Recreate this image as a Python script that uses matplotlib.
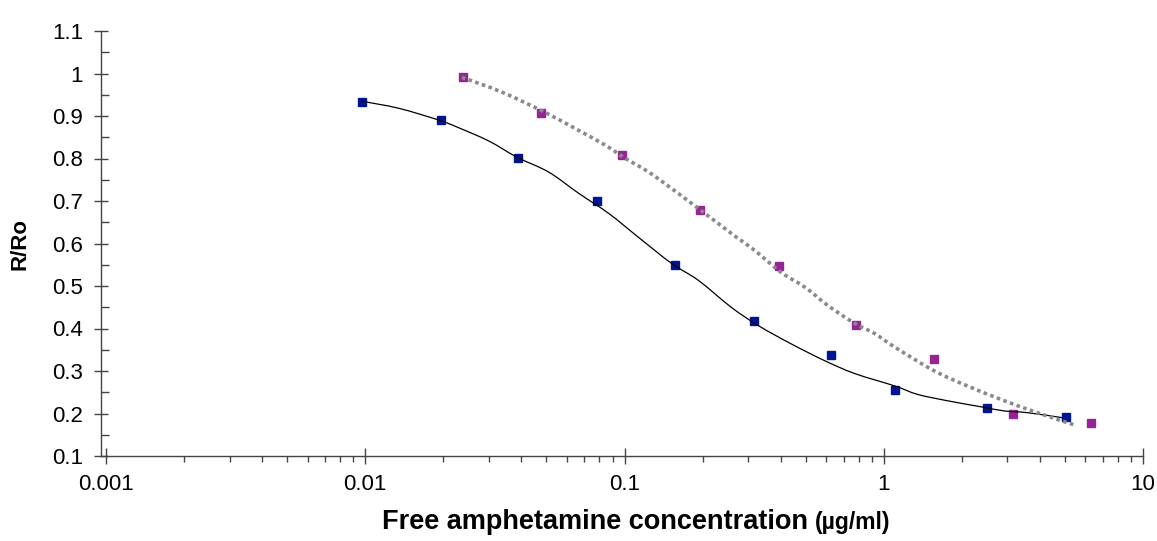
import matplotlib
matplotlib.use("Agg")
import matplotlib.pyplot as plt
from matplotlib.path import Path
from matplotlib.patches import PathPatch
from matplotlib.ticker import FixedLocator, LogLocator, AutoMinorLocator, NullFormatter
import numpy as np

plt.rcParams['font.family'] = ['Liberation Sans', 'DejaVu Sans']

# measured points, series 1 (blue) and series 2 (magenta)
conc_blue = [0.0097, 0.0196, 0.039, 0.0785, 0.157, 0.315, 0.624, 1.11, 2.51, 5.05]
rr_blue = [0.934, 0.891, 0.802, 0.700, 0.550, 0.417, 0.337, 0.255, 0.214, 0.192]

conc_mag = [0.0239, 0.0478, 0.098, 0.196, 0.394, 0.785, 1.56, 3.15, 6.3]
rr_mag = [0.991, 0.908, 0.809, 0.679, 0.548, 0.408, 0.328, 0.198, 0.177]

# fitted curves
fit_blue_x = [0.00966, 0.0135, 0.0193, 0.0230, 0.0300, 0.0385, 0.0510, 0.0666, 0.0868,
              0.113, 0.152, 0.193, 0.258, 0.328, 0.439, 0.593, 0.773, 1.10, 1.35,
              1.76, 2.36, 2.92, 3.58, 4.9]
fit_blue_y = [0.935, 0.918, 0.890, 0.872, 0.841, 0.803, 0.768, 0.718, 0.671,
              0.615, 0.553, 0.513, 0.450, 0.407, 0.364, 0.324, 0.294, 0.265, 0.245,
              0.230, 0.216, 0.206, 0.202, 0.190]

fit_mag_x = [0.0236, 0.0337, 0.0488, 0.0666, 0.0845, 0.101, 0.124, 0.157, 0.193,
             0.230, 0.270, 0.319, 0.402, 0.497, 0.609, 0.773, 0.923, 1.11, 1.57,
             2.10, 2.92, 3.91, 5.5]
fit_mag_y = [0.991, 0.956, 0.910, 0.866, 0.831, 0.800, 0.768, 0.723, 0.682,
             0.647, 0.615, 0.583, 0.532, 0.497, 0.454, 0.412, 0.388, 0.355, 0.300,
             0.265, 0.230, 0.202, 0.172]

y_ticks = [0.1, 0.2, 0.3, 0.4, 0.5, 0.6, 0.7, 0.8, 0.9, 1.0, 1.1]
y_labels = ['0.1', '0.2', '0.3', '0.4', '0.5', '0.6', '0.7', '0.8', '0.9', '1', '1.1']
x_ticks = [0.001, 0.01, 0.1, 1, 10]
x_labels = ['0.001', '0.01', '0.1', '1', '10']


def smooth_path(xs, ys):
    # excel-style smoothed line: catmull-rom segments as cubic beziers in log-x space
    pts = np.column_stack([np.log10(xs), ys])
    verts = [pts[0]]
    codes = [Path.MOVETO]
    n = len(pts)
    for i in range(n - 1):
        p0 = pts[max(i - 1, 0)]
        p1 = pts[i]
        p2 = pts[i + 1]
        p3 = pts[min(i + 2, n - 1)]
        verts += [p1 + (p2 - p0) / 6, p2 - (p3 - p1) / 6, p2]
        codes += [Path.CURVE4] * 3
    verts = np.array(verts)
    verts[:, 0] = 10 ** verts[:, 0]
    return Path(verts, codes)


fig = plt.figure(figsize=(11.57, 5.41), dpi=100)
ax = fig.add_axes([101 / 1157, 1 - 456 / 541, 1042 / 1157, 425 / 541])

ax.plot(conc_blue, rr_blue, 's', color='#001593', ms=6, mec='#001593', zorder=2)
ax.plot(conc_mag, rr_mag, 's', color='#952595', ms=6, mec='#952595', zorder=2)
ax.add_patch(PathPatch(smooth_path(fit_blue_x, fit_blue_y), fill=False,
                       edgecolor='black', lw=0.9, zorder=3))
ax.add_patch(PathPatch(smooth_path(fit_mag_x, fit_mag_y), fill=False,
                       edgecolor='#8a8a8a', lw=2.6, ls=(0, (1, 0.95)),
                       capstyle='butt', zorder=3))

ax.set_xscale('log')
ax.set_xlim(10 ** (-3 - 5 / 259.25), 10)
ax.set_ylim(0.1, 1.1)

ax.xaxis.set_major_locator(FixedLocator(x_ticks))
ax.set_xticklabels(x_labels)
ax.xaxis.set_minor_locator(LogLocator(base=10, subs=np.arange(2, 10)))
ax.xaxis.set_minor_formatter(NullFormatter())
ax.yaxis.set_major_locator(FixedLocator(y_ticks))
ax.set_yticklabels(y_labels)
ax.yaxis.set_minor_locator(AutoMinorLocator(2))

for s in ['top', 'right']:
    ax.spines[s].set_visible(False)
for s in ['left', 'bottom']:
    ax.spines[s].set_color('#444444')
    ax.spines[s].set_linewidth(1.0)

ax.tick_params(axis='y', which='major', direction='inout', length=10, width=1,
               color='#444444', labelsize=16, pad=8)
ax.tick_params(axis='x', which='major', direction='inout', length=12, width=1,
               color='#444444', labelsize=16, pad=7)
ax.tick_params(axis='y', which='minor', direction='in', length=6, width=1, color='#444444')
ax.tick_params(axis='x', which='minor', direction='out', length=4, width=1, color='#444444')

ax.set_ylabel('R/Ro', fontsize=16, fontweight='bold', labelpad=15)

# x label: units in a smaller size
split_x = 815 / 1157
base_y = 12 / 541
fig.text(split_x, base_y, 'Free amphetamine concentration ', fontsize=19.5,
         fontweight='bold', ha='right', va='baseline')
fig.text(split_x, base_y, '(\u00b5g/ml)', fontsize=16.5, fontweight='bold',
         ha='left', va='baseline')

fig.savefig('out.png', dpi=100)
